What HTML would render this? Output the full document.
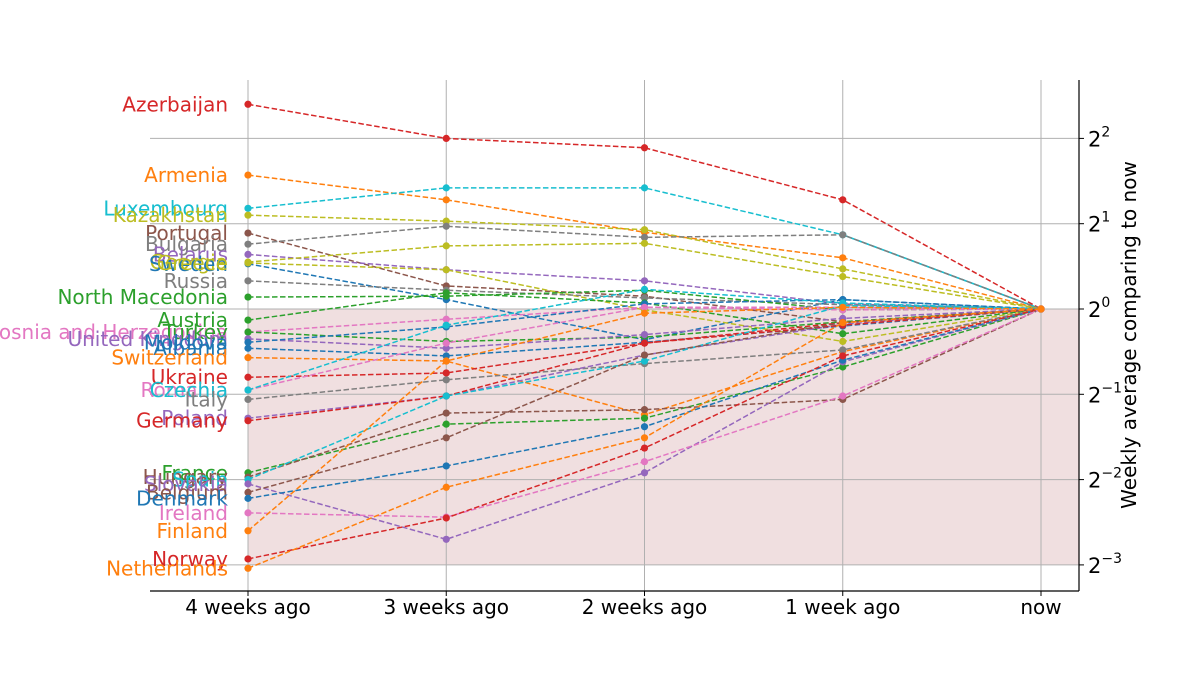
<!DOCTYPE html>
<html><head><meta charset="utf-8"><style>
html,body{margin:0;padding:0;background:#fff;width:1200px;height:675px;overflow:hidden}
svg text{font-family:"DejaVu Sans","Liberation Sans",sans-serif}
</style></head><body>
<svg id="chart" width="1200" height="675" viewBox="0 0 1200 675" xmlns="http://www.w3.org/2000/svg"></svg>
<script>
const categories=["4 weeks ago","3 weeks ago","2 weeks ago","1 week ago","now"];
const yTicks=[2,1,0,-1,-2,-3];
const countries=["Azerbaijan","Armenia","Luxembourg","Kazakhstan","Portugal","Bulgaria","Belarus","Georgia","Sweden","Greece","Russia","North Macedonia","Austria","Bosnia and Herzegovina","Turkey","United Kingdom","Moldova","Albania","Switzerland","Ukraine","Romania","Czechia","Italy","Poland","Germany","France","Hungary","Spain","Slovakia","Belgium","Denmark","Ireland","Finland","Norway","Netherlands"];
const colors=["#d62728","#ff7f0e","#17becf","#bcbd22","#8c564b","#7f7f7f","#9467bd","#bcbd22","#1f77b4","#bcbd22","#7f7f7f","#2ca02c","#2ca02c","#e377c2","#2ca02c","#9467bd","#1f77b4","#1f77b4","#ff7f0e","#d62728","#e377c2","#17becf","#7f7f7f","#9467bd","#d62728","#2ca02c","#8c564b","#17becf","#9467bd","#8c564b","#1f77b4","#e377c2","#ff7f0e","#d62728","#ff7f0e"];
// log2 of weekly average relative to now: [4w,3w,2w,1w,now]
const sAzerbaijan=[2.40,2.00,1.89,1.28,0];
const sArmenia=[1.57,1.28,0.90,0.60,0];
const sLuxembourg=[1.18,1.42,1.42,0.87,0];
const sKazakhstan=[1.10,1.03,0.93,0.47,0];
const sPortugal=[0.89,0.27,0.15,-0.15,0];
const sBulgaria=[0.76,0.97,0.84,0.87,0];
const sBelarus=[0.64,0.46,0.33,0.06,0];
const sGeorgia=[0.55,0.74,0.77,0.38,0];
const sSweden=[0.53,0.11,-0.36,0.11,0];
const sGreece=[0.54,0.46,-0.01,-0.38,0];
const sRussia=[0.33,0.22,0.13,0.05,0];
const sNMacedonia=[0.14,0.15,0.22,-0.01,0];
const sAustria=[-0.13,0.19,0.07,-0.29,0];
const sBosnia=[-0.27,-0.12,0.02,-0.01,0];
const sTurkey=[-0.27,-0.38,-0.33,-0.15,0];
const sUK=[-0.35,-0.46,-0.30,-0.11,0];
const sMoldova=[-0.39,-0.21,0.06,0.11,0];
const sAlbania=[-0.46,-0.55,-0.39,-0.20,0];
const sSwitzerland=[-0.57,-0.61,-1.24,-0.50,0];
const sUkraine=[-0.80,-0.75,-0.40,-0.16,0];
const sRomania=[-0.95,-0.40,0.02,0.02,0];
const sCzechia=[-0.95,-0.19,0.23,0.07,0];
const sItaly=[-1.06,-0.83,-0.64,-0.48,0];
const sPoland=[-1.28,-1.02,-0.54,-0.18,0];
const sGermany=[-1.31,-1.02,-0.40,-0.19,0];
const sFrance=[-1.92,-1.35,-1.28,-0.68,0];
const sHungary=[-1.97,-1.22,-1.18,-1.06,0];
const sSpain=[-2.00,-1.02,-0.61,0.04,0];
const sSlovakia=[-2.05,-2.70,-1.92,-0.62,0];
const sBelgium=[-2.15,-1.51,-0.54,-0.16,0];
const sDenmark=[-2.22,-1.84,-1.38,-0.60,0];
const sIreland=[-2.39,-2.44,-1.79,-1.02,0];
const sFinland=[-2.60,-0.61,-0.05,0.02,0];
const sNorway=[-2.93,-2.45,-1.63,-0.55,0];
const sNetherlands=[-3.04,-2.09,-1.51,-0.16,0];
const series=[sAzerbaijan,sArmenia,sLuxembourg,sKazakhstan,sPortugal,sBulgaria,sBelarus,sGeorgia,sSweden,sGreece,sRussia,sNMacedonia,sAustria,sBosnia,sTurkey,sUK,sMoldova,sAlbania,sSwitzerland,sUkraine,sRomania,sCzechia,sItaly,sPoland,sGermany,sFrance,sHungary,sSpain,sSlovakia,sBelgium,sDenmark,sIreland,sFinland,sNorway,sNetherlands];

const NS="http://www.w3.org/2000/svg";
const svg=document.getElementById('chart');
const L=150,R=1079,T=80,B=591;
const X0=248,DX=198.25;
function xs(i){return X0+i*DX;}
function ys(v){return 309-v*85.3;}
function mk(tag,attrs,parent){const e=document.createElementNS(NS,tag);for(const k in attrs)e.setAttribute(k,attrs[k]);(parent||svg).appendChild(e);return e;}

const sh=mk('rect',{x:xs(0),y:ys(0),width:R-xs(0),height:ys(-3)-ys(0),fill:'#f0dfe0'});



const grid=mk('g',{});


categories.forEach((c,i)=>{mk('line',{x1:xs(i),x2:xs(i),y1:T,y2:B,stroke:'#b0b0b0','stroke-width':1},grid);});
yTicks.forEach(t=>{mk('line',{x1:L,x2:R,y1:ys(t),y2:ys(t),stroke:'#b0b0b0','stroke-width':1},grid);});

const ax=mk('line',{x1:L,x2:R,y1:B,y2:B,stroke:'#000','stroke-width':1.2});


const ay=mk('line',{x1:R,x2:R,y1:T,y2:B,stroke:'#000','stroke-width':1.2});



categories.forEach((c,i)=>{
  mk('line',{x1:xs(i),x2:xs(i),y1:B,y2:B+5,stroke:'#000','stroke-width':1});
  const t=mk('text',{x:xs(i),y:614,'font-size':20,'text-anchor':'middle',fill:'#000'});
  t.textContent=c;
  
  
});
yTicks.forEach(v=>{
  mk('line',{x1:R,x2:R+5,y1:ys(v),y2:ys(v),stroke:'#000','stroke-width':1});
  const t=mk('text',{x:R+9,y:ys(v)+8,'font-size':21,fill:'#000'});
  
  
  t.appendChild(document.createTextNode('2'));
  const s=mk('tspan',{dy:-10,'font-size':14},t);
  s.textContent=(v<0?'\u2212'+(-v):String(v));
});
const yt=mk('text',{x:0,y:0,'font-size':20,'text-anchor':'middle',fill:'#000',transform:'translate(1136,335) rotate(-90)'});
yt.textContent='Weekly average comparing to now';



series.forEach((s,k)=>{
  const g=mk('g',{});
  
  
  const pts=s.map((v,i)=>xs(i)+','+ys(v)).join(' ');
  mk('polyline',{points:pts,fill:'none',stroke:colors[k],'stroke-width':1.5,'stroke-dasharray':'5.5,2.5'},g);
  if(countries[k]==='Luxembourg'){
    mk('line',{x1:xs(3),y1:ys(s[3]),x2:xs(4),y2:ys(s[4]),stroke:colors[k],'stroke-width':1.5},g);
  }
  s.forEach((v,i)=>{mk('circle',{cx:xs(i),cy:ys(v),r:3.6,fill:colors[k]},g);});
  const lb=mk('text',{x:228,y:ys(s[0])+7,'font-size':20,'text-anchor':'end',fill:colors[k]},g);
  lb.textContent=countries[k];
  
  
});
</script>
</body></html>
